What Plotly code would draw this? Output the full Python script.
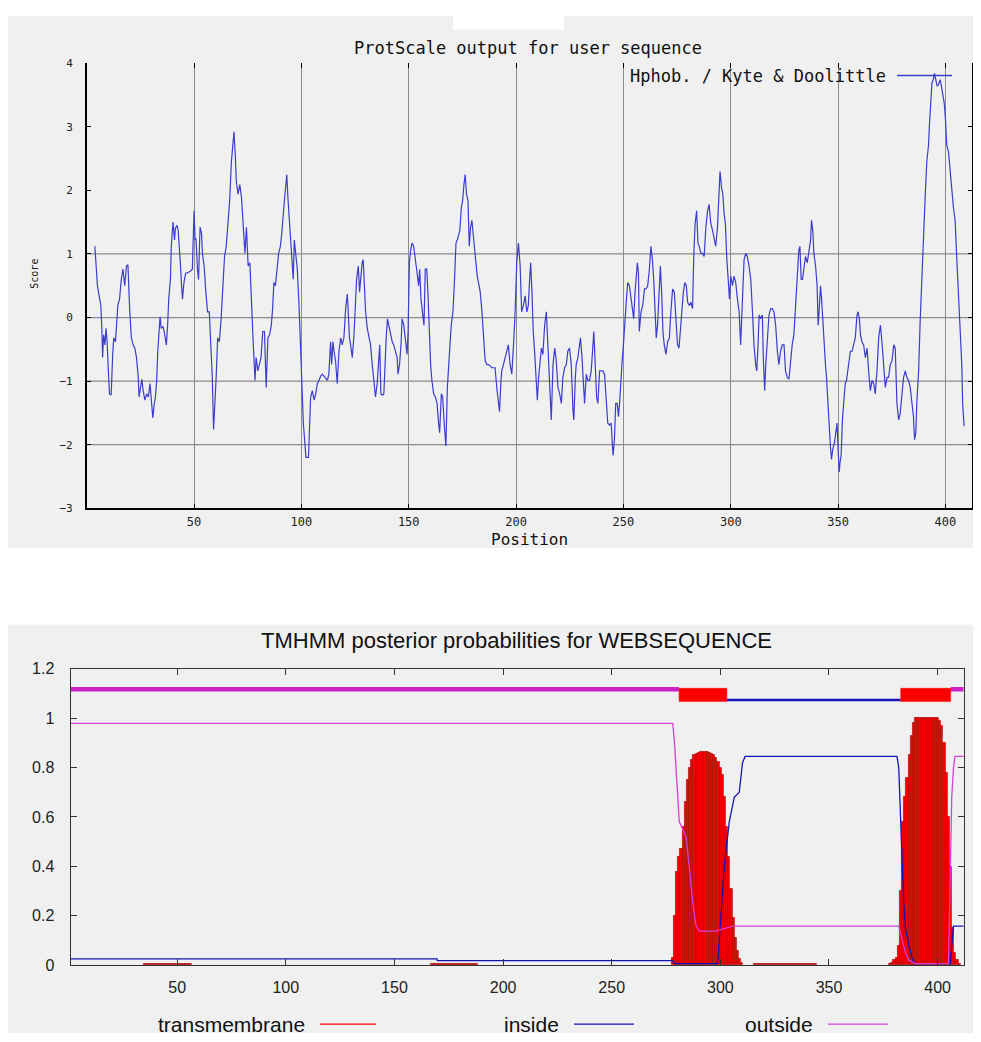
import plotly.graph_objects as go

# The page body adds an 8px margin, so the figure is 8px smaller and all
# reference pixel positions are shifted by that margin.
OFF = 8
W, H = 981 - OFF, 1042 - OFF


def fx(p):
    return (p - OFF) / W


def fy(p):
    return 1 - (p - OFF) / H


# ---------------- ProtScale (Kyte & Doolittle) profile ----------------
kd_pos = [
    3.8, 4.3, 5.0, 5.8, 6.6, 7.1, 7.4, 7.9, 8.5, 9.0,
    9.5, 10.1, 10.6, 11.4, 11.8, 12.1, 12.6, 13.4, 14.0, 14.5,
    15.3, 16.1, 16.9, 17.7, 18.5, 19.2, 20.0, 20.8, 21.6, 22.4,
    23.2, 24.0, 24.4, 25.1, 25.7, 26.3, 27.1, 27.9, 28.7, 29.5,
    30.0, 30.8, 31.4, 32.0, 32.6, 33.1, 33.9, 34.2, 34.7, 35.5,
    36.1, 37.1, 37.7, 38.2, 39.0, 39.4, 40.2, 40.9, 41.3, 42.1,
    42.6, 43.1, 43.7, 44.2, 44.6, 45.3, 46.1, 46.8, 48.4, 49.2,
    50.0, 50.5, 50.9, 51.6, 52.1, 52.8, 53.5, 53.9, 54.7, 55.5,
    56.3, 57.1, 57.9, 58.5, 59.1, 59.8, 60.3, 61.0, 61.8, 62.6,
    63.4, 64.2, 65.0, 65.8, 66.6, 67.4, 68.1, 68.6, 69.2, 69.7,
    70.5, 71.3, 72.1, 72.9, 73.7, 74.4, 75.2, 76.0, 76.8, 77.6,
    78.4, 78.9, 79.7, 80.4, 81.2, 82.0, 82.8, 83.6, 84.4, 85.2,
    86.0, 86.6, 87.2, 87.9, 88.6, 89.4, 90.2, 91.0, 91.8, 92.6,
    93.2, 93.8, 94.5, 95.1, 95.7, 96.2, 96.7, 97.3, 98.1, 98.9,
    99.7, 100.5, 100.9, 101.6, 102.1, 103.3,
    103.6, 104.3, 105.1, 105.9, 106.7, 107.4, 108.2, 109.0, 109.8, 110.5,
    111.3, 112.1, 112.8, 113.6, 114.1, 114.7, 115.2, 115.9, 116.7, 117.5,
    118.3, 119.0, 119.8, 120.6, 121.4, 121.8, 122.4, 122.9, 123.7, 124.5,
    125.2, 125.7, 126.5, 127.1, 127.6, 128.3, 128.8, 129.4, 129.9, 130.7,
    131.4, 132.2, 133.0, 133.7, 134.5, 135.3, 136.1, 136.5, 137.0, 137.9,
    138.4, 138.9, 139.5, 140.1, 140.7, 141.5, 142.3, 143.0, 143.8, 144.6,
    145.0, 145.7, 146.4, 146.9, 147.7, 148.5, 149.2, 149.7, 150.3, 150.9,
    151.5, 152.3, 153.1, 153.9, 154.6, 155.1, 155.7, 156.5, 157.1, 157.7,
    158.4, 159.0, 159.6, 160.2, 160.8, 161.6, 162.4, 163.2, 163.9, 164.4,
    165.2, 165.8, 166.6, 167.3, 168.0, 168.6, 169.2, 169.8, 170.6, 171.4,
    172.0, 172.6, 173.2, 173.8, 174.5, 175.1, 175.7, 176.3, 176.9, 177.6,
    178.2, 178.8, 179.4, 180.0, 180.7, 181.3, 181.9, 182.5, 183.3, 184.1,
    184.8, 185.6, 186.4, 187.2, 187.9, 188.7, 189.5, 190.2, 191.0, 191.8,
    192.3, 192.9, 193.3, 194.1, 194.9, 195.7, 196.4, 197.2, 198.0, 198.8,
    199.5, 200.3, 201.1, 201.9, 202.6, 203.4, 204.2, 205.0, 205.7,
    206.3, 206.8, 207.4, 208.0, 208.7, 209.4, 209.9, 210.5, 211.3, 211.8,
    212.5, 213.3, 214.1, 214.6, 215.2, 215.6, 216.4, 217.2, 218.0, 218.7,
    219.5, 220.3, 221.1, 221.8, 222.6, 223.4, 224.1, 224.9, 225.7, 226.5,
    226.9, 227.6, 228.0, 228.8, 229.6, 230.0, 230.7, 231.3, 231.9, 232.7,
    233.4, 234.2, 235.0, 235.8, 236.2, 236.8, 237.5, 238.1, 238.9, 239.6,
    240.4, 241.2, 242.0, 242.7, 243.5, 244.3, 244.7, 245.2, 245.8, 246.4,
    247.1, 247.7, 248.3, 248.9, 249.4, 250.0, 250.8, 251.4, 252.0, 252.8,
    253.6, 254.3, 254.8, 255.4, 255.9, 256.5, 257.0, 257.4, 258.2, 259.0,
    259.8, 260.5, 261.3, 262.1, 262.8, 263.5, 264.1, 264.7, 265.3, 265.9,
    266.6, 267.2, 267.8, 268.4, 269.0, 269.8, 270.6, 271.4, 272.1, 272.9,
    273.7, 274.5, 275.2, 275.9, 276.5, 277.1, 277.9, 278.6, 279.3, 279.9,
    280.7, 281.4, 282.2, 282.8, 283.4, 284.1, 284.7, 285.3, 286.1, 286.8,
    287.6, 288.4, 289.2, 289.9, 290.7, 291.5, 292.3, 293.0, 293.8, 294.4,
    295.0, 295.7, 296.3, 296.9, 297.5, 298.1, 298.8, 299.4, 300.0, 300.8,
    301.5, 302.3, 303.1, 303.9,
    304.6, 305.4, 306.2, 307.0, 307.7, 308.5, 309.3, 310.1, 310.8, 311.6,
    312.1, 312.7, 313.2, 313.9, 314.7, 315.2, 315.8, 316.3, 317.0, 317.8,
    318.6, 319.3, 320.1, 320.9, 321.7, 322.4, 323.2, 324.0, 324.8, 325.5,
    326.3, 327.1, 327.9, 328.6, 329.4, 330.2, 331.0, 331.7, 332.2, 332.8,
    333.4, 334.1, 334.8, 335.6, 336.4, 337.2, 337.6, 338.2, 338.7, 339.5,
    340.2, 340.7, 341.3, 341.8, 342.3, 342.9, 343.3, 344.1, 344.6, 345.2,
    345.8, 346.4, 346.9, 347.5, 348.3, 349.1, 349.5, 350.0, 350.5, 350.9,
    351.4, 352.0, 352.6, 353.3, 353.9, 354.5, 355.1, 355.7, 356.5, 357.3,
    358.0, 358.8, 359.3, 359.9, 360.4, 361.1, 361.9, 362.7, 363.5, 364.2,
    365.0, 365.8, 366.6, 367.3, 368.1, 368.9, 369.7, 370.4, 371.2, 372.0,
    372.8, 373.5, 374.3, 375.1, 375.9, 376.6, 377.4, 378.2, 378.9, 379.7,
    380.5, 381.3, 382.0, 382.8, 383.6, 384.4, 385.1, 385.6, 386.2, 386.7,
    387.5, 388.2, 389.0, 389.8, 390.6, 391.3, 392.1, 392.6, 393.2, 393.7,
    394.3, 394.9, 395.5, 396.1, 396.7, 397.5, 398.1, 398.8, 399.4, 400.0,
    400.6, 401.4, 402.2, 402.9, 403.7, 404.5, 405.3, 406.0, 406.8, 407.6,
    408.0, 408.7,
]
kd_val = [
    1.12, 0.81, 0.50, 0.34, 0.19, -0.22, -0.63, -0.27, -0.43, -0.17,
    -0.38, -0.84, -1.20, -1.22, -0.79, -0.58, -0.32, -0.38, -0.07, 0.19,
    0.29, 0.60, 0.76, 0.50, 0.81, 0.83, 0.14, -0.32, -0.43, -0.48,
    -0.63, -0.94, -1.25, -1.10, -0.97, -1.15, -1.30, -1.20, -1.25, -1.04,
    -1.30, -1.58, -1.38, -1.25, -0.99, -0.53, -0.12, 0.01, -0.17, -0.14,
    -0.22, -0.43, -0.12, 0.29, 0.60, 1.12, 1.50, 1.22, 1.40, 1.45,
    1.37, 1.01, 0.81, 0.50, 0.29, 0.55, 0.70, 0.70, 0.73, 0.76,
    1.68, 1.22, 1.24, 0.76, 0.60, 1.42, 1.32, 1.01, 0.81, 0.40,
    0.09, 0.09, -0.43, -0.94, -1.76, -1.35, -0.94, -0.32, -0.38, -0.02,
    0.45, 0.96, 1.12, 1.48, 1.84, 2.45, 2.71, 2.92, 2.56, 2.14,
    1.94, 2.09, 1.89, 1.48, 1.01, 1.42, 0.81, 0.86, 0.09, -0.43,
    -0.99, -0.63, -0.84, -0.74, -0.63, -0.22, -0.22, -1.10, -0.32, -0.27,
    -0.12, 0.14, 0.55, 0.50, 0.70, 1.01, 1.12, 1.37, 1.73, 2.09,
    2.25, 1.84, 1.42, 1.22, 0.81, 0.60, 1.22, 1.01, 0.76, 0.19,
    -0.68, -1.35, -1.66, -1.97, -2.20, -2.20,
    -1.81, -1.25, -1.15, -1.30, -1.20, -1.04, -0.99, -0.92, -0.89, -0.92,
    -0.94, -0.99, -0.89, -0.38, -0.74, -0.38, -0.53, -0.68, -1.04, -0.53,
    -0.32, -0.43, -0.32, 0.14, 0.37, 0.04, -0.32, -0.43, -0.63, -0.27,
    0.19, 0.60, 0.81, 0.40, 0.60, 0.86, 0.91, 0.50, 0.09, -0.17,
    -0.32, -0.43, -0.74, -0.99, -1.25, -1.04, -0.63, -0.43, -1.20, -1.22,
    -1.20, -0.74, -0.32, -0.02, -0.12, -0.27, -0.38, -0.43, -0.53, -0.63,
    -0.89, -0.74, -0.43, -0.02, -0.12, -0.43, -0.58, -0.22, 0.86, 1.06,
    1.17, 1.12, 0.86, 0.70, 0.50, 0.76, 0.29, 0.04, -0.12, 0.76,
    0.76, 0.34, -0.32, -0.74, -0.99, -1.20, -1.25, -1.35, -1.66, -1.81,
    -1.20, -1.25, -1.71, -2.02, -1.10, -0.84, -0.43, -0.12, 0.09, 0.65,
    1.17, 1.22, 1.32, 1.37, 1.73, 1.84, 2.09, 2.25, 1.94, 1.84,
    1.12, 1.42, 1.53, 1.32, 1.12, 0.81, 0.65, 0.55, 0.40, 0.09,
    -0.32, -0.68, -0.74, -0.74, -0.76, -0.79, -0.79, -0.79, -1.10, -1.35,
    -1.48, -1.04, -0.84, -0.74, -0.63, -0.53, -0.43, -0.74, -0.89, -0.43,
    0.04, 0.86, 1.17, 0.81, 0.09, 0.19, 0.34, 0.09, 0.19,
    0.60, 0.86, 0.40, -0.22, -0.58, -0.99, -1.30, -0.94, -0.63, -0.48,
    -0.58, -0.12, 0.09, -0.32, -0.74, -1.10, -1.61, -0.74, -0.48, -0.68,
    -1.10, -1.20, -1.35, -0.94, -0.79, -0.74, -0.53, -0.48, -0.74, -1.46,
    -1.61, -0.94, -0.74, -0.63, -0.38, -0.32, -0.63, -1.04, -1.35, -0.89,
    -0.99, -0.99, -0.84, -0.43, -0.22, -0.68, -1.25, -1.35, -0.84, -0.84,
    -0.84, -0.89, -1.30, -1.66, -1.69, -1.66, -1.92, -2.17, -1.92, -1.35,
    -1.35, -1.56, -1.30, -0.89, -0.68, -0.43, 0.09, 0.29, 0.55, 0.50,
    0.29, 0.09, -0.02, 0.40, 0.65, 0.86, 0.70, -0.22, 0.09, 0.19,
    0.45, 0.45, 0.50, 0.76, 1.12, 0.91, 0.60, -0.02, -0.32, -0.12,
    0.40, 0.81, 0.40, -0.22, -0.43, -0.58, -0.38, -0.32, 0.09, 0.45,
    0.40, 0.04, -0.43, -0.48, -0.22, 0.09, 0.40, 0.55, 0.50, 0.24,
    0.19, 0.24, 0.14, 1.01, 1.48, 1.68, 1.17, 1.12, 1.01, 1.01,
    0.96, 1.42, 1.68, 1.78, 1.48, 1.37, 1.22, 1.12, 1.42, 1.89,
    2.30, 2.04, 1.94, 1.63, 1.48, 0.96, 0.55, 0.29, 0.65, 0.50,
    0.65, 0.55, 0.29, 0.09,
    -0.43, 0.40, 0.91, 1.01, 0.96, 0.81, 0.60, 0.09, -0.43, -0.74,
    -0.84, -0.43, 0.04, -0.02, 0.04, -0.68, -1.15, -0.74, -0.38, 0.04,
    0.14, 0.14, 0.09, -0.12, -0.53, -0.74, -0.53, -0.43, -0.43, -0.84,
    -0.94, -0.97, -0.68, -0.43, -0.27, 0.19, 0.60, 1.06, 1.12, 0.60,
    0.60, 0.76, 0.96, 0.86, 1.01, 1.22, 1.53, 1.37, 1.01, 0.81,
    0.50, -0.12, 0.19, 0.50, 0.29, -0.12, -0.43, -0.74, -0.94, -1.35,
    -1.56, -2.02, -2.23, -2.07, -1.97, -1.76, -1.66, -2.07, -2.43, -2.28,
    -2.17, -1.61, -1.25, -1.04, -0.99, -0.84, -0.74, -0.53, -0.53, -0.43,
    -0.32, 0.04, 0.09, -0.02, -0.27, -0.38, -0.43, -0.63, -0.48, -0.84,
    -1.15, -0.99, -1.04, -1.20, -0.84, -0.32, -0.12, -0.38, -0.74, -1.10,
    -0.94, -0.94, -0.74, -0.68, -0.43, -0.48, -1.35, -1.61, -1.51, -1.15,
    -0.94, -0.84, -0.94, -0.99, -1.10, -1.35, -1.56, -1.92, -1.81, -1.30,
    -0.84, -0.07, 0.70, 1.22, 1.94, 2.45, 2.71, 3.07, 3.48, 3.69,
    3.74, 3.84, 3.74, 3.64, 3.66, 3.74, 3.64, 3.48, 3.38, 3.12,
    2.71, 2.61, 2.35, 2.04, 1.73, 1.53, 0.91, 0.34, -0.22, -0.74,
    -1.35, -1.71,
]
n_kd = min(len(kd_pos), len(kd_val))
kd_pos, kd_val = kd_pos[:n_kd], kd_val[:n_kd]

top_xticks = [50, 100, 150, 200, 250, 300, 350, 400]
top_yticks = [-3, -2, -1, 0, 1, 2, 3, 4]
top_hgrid = [-2, -1, 0, 1]

# ---------------- TMHMM posterior probabilities ----------------
tm_pos = (
    [35, 36, 37, 38, 39, 40, 41, 42, 43, 44, 45, 46, 47, 48, 49, 50, 51, 52, 53, 54, 55, 56]
    + [167, 168, 169, 170, 171, 172, 173, 174, 175, 176, 177, 178, 179, 180, 181, 182, 183, 184, 185, 186, 187, 188]
    + [278, 279, 280, 281, 282, 283, 284, 285, 286, 287, 288, 289, 290, 291, 292, 293, 294,
       295, 296, 297, 298, 299, 300, 301, 302, 303, 304, 305, 306, 307, 308, 309, 310]
    + [316, 317, 318, 319, 320, 321, 322, 323, 324, 325, 326, 327, 328, 329, 330, 331, 332,
       333, 334, 335, 336, 337, 338, 339, 340, 341, 342, 343, 344]
    + [378, 379, 380, 381, 382, 383, 384, 385, 386, 387, 388, 389, 390, 391, 392, 393, 394,
       395, 396, 397, 398, 399, 400, 401, 402, 403, 404, 405, 406, 407, 408, 409, 410]
)
tm_val = (
    [0.004, 0.004, 0.004, 0.004, 0.004, 0.004, 0.004, 0.004, 0.004, 0.004, 0.005,
     0.005, 0.005, 0.005, 0.006, 0.006, 0.005, 0.005, 0.004, 0.004, 0.004, 0.004]
    + [0.004, 0.004, 0.004, 0.004, 0.004, 0.004, 0.004, 0.004, 0.004, 0.004, 0.004,
       0.004, 0.004, 0.004, 0.004, 0.004, 0.004, 0.004, 0.004, 0.004, 0.004, 0.004]
    + [0.03, 0.20, 0.38, 0.44, 0.47, 0.56, 0.66, 0.75, 0.80, 0.83, 0.85, 0.855, 0.86, 0.862, 0.862, 0.862, 0.862,
       0.86, 0.855, 0.85, 0.84, 0.825, 0.80, 0.77, 0.68, 0.56, 0.44, 0.31, 0.19, 0.11, 0.06, 0.025, 0.01]
    + [0.004, 0.004, 0.004, 0.004, 0.004, 0.004, 0.004, 0.004, 0.004, 0.004, 0.004, 0.004, 0.004, 0.004,
       0.004, 0.004, 0.004, 0.004, 0.004, 0.004, 0.004, 0.004, 0.004, 0.004, 0.004, 0.004, 0.004, 0.004, 0.004]
    + [0.005, 0.01, 0.02, 0.03, 0.08, 0.30, 0.58, 0.68, 0.76, 0.85, 0.93, 0.98, 1.0, 1.0, 1.0, 1.0, 1.0,
       1.0, 1.0, 1.0, 1.0, 1.0, 1.0, 0.99, 0.97, 0.90, 0.78, 0.60, 0.40, 0.15, 0.05, 0.02, 0.005]
)

inside_pos = [1, 169.6, 169.7, 278.1, 279.0, 298.7, 299.1, 301.8, 304.1, 306.4, 308.7, 310.2, 311.4,
              381.3, 382.1, 382.9, 383.6, 384.4, 385.2, 386.7, 388.2, 389.7, 405.8, 406.5, 407.3, 412]
inside_val = [0.025, 0.025, 0.018, 0.018, 0.006, 0.006, 0.05, 0.40, 0.58, 0.68, 0.70, 0.82, 0.845,
              0.845, 0.80, 0.60, 0.40, 0.25, 0.15, 0.08, 0.03, 0.006, 0.006, 0.08, 0.158, 0.158]

outside_pos = [1, 278.1, 278.9, 279.6, 280.4, 281.1, 282.7, 284.2, 285.7, 287.2, 288.8, 290.3, 298.0,
               302.6, 305.6, 382.1, 383.6, 385.2, 386.7, 389.7, 405.0, 405.8, 406.5, 407.3, 408.0, 412]
outside_val = [0.979, 0.979, 0.90, 0.80, 0.68, 0.58, 0.55, 0.52, 0.40, 0.26, 0.16, 0.138, 0.138,
               0.15, 0.158, 0.158, 0.10, 0.05, 0.02, 0.006, 0.006, 0.30, 0.68, 0.80, 0.845, 0.845]

# topology bar above the curves (predicted regions)
out_seg_start = [1, 406]
out_seg_end = [281, 412]
tm_seg_start = [281, 383]
tm_seg_end = [303, 406]
in_seg_start = [303]
in_seg_end = [383]

bot_xticks = [50, 100, 150, 200, 250, 300, 350, 400]
bot_yticks = [0, 0.2, 0.4, 0.6, 0.8, 1.0, 1.2]

# ---------------- styles ----------------
MONO = "DejaVu Sans Mono"
SANS = "Liberation Sans, Arial"
KD_BLUE = "#3c3cd0"
RED = "#ff0000"
IN_BLUE = "#1414b4"
OUT_PINK = "#d640d6"
OUT_PINK_BAR = "#cc22cc"
BAR_Y_OUT = 1.117
BAR_Y_IN = 1.074
TM_BOX_LO, TM_BOX_HI = 1.068, 1.121

fig = go.Figure()

# top subplot: profile
fig.add_trace(go.Scatter(x=kd_pos, y=kd_val, mode="lines", xaxis="x", yaxis="y",
                         line=dict(color=KD_BLUE, width=1.2), hoverinfo="skip", showlegend=False))
# helper trace so the top tick axis is drawn
fig.add_trace(go.Scatter(x=[kd_pos[0]], y=[kd_val[0]], mode="markers", xaxis="x3", yaxis="y",
                         marker=dict(opacity=0), hoverinfo="skip", showlegend=False))

# bottom subplot: TMHMM
fig.add_trace(go.Bar(x=tm_pos, y=tm_val, width=1, xaxis="x2", yaxis="y2",
                     marker=dict(color=RED, line=dict(color="#9a0000", width=0.6)),
                     hoverinfo="skip", showlegend=False))
fig.add_trace(go.Scatter(x=inside_pos, y=inside_val, mode="lines", xaxis="x2", yaxis="y2",
                         line=dict(color=IN_BLUE, width=1.3), hoverinfo="skip", showlegend=False))
fig.add_trace(go.Scatter(x=outside_pos, y=outside_val, mode="lines", xaxis="x2", yaxis="y2",
                         line=dict(color=OUT_PINK, width=1.3), hoverinfo="skip", showlegend=False))


def seg_xy(starts, ends, yv):
    xs, ys = [], []
    for s, e in zip(starts, ends):
        xs += [s, e, None]
        ys += [yv, yv, None]
    return xs, ys


def box_xy(starts, ends, lo, hi):
    xs, ys = [], []
    for s, e in zip(starts, ends):
        xs += [s, e, e, s, s, None]
        ys += [lo, lo, hi, hi, lo, None]
    return xs, ys


ox, oy = seg_xy(out_seg_start, out_seg_end, BAR_Y_OUT)
fig.add_trace(go.Scatter(x=ox, y=oy, mode="lines", xaxis="x2", yaxis="y2",
                         line=dict(color=OUT_PINK_BAR, width=4.5), hoverinfo="skip", showlegend=False))
ix, iy = seg_xy(in_seg_start, in_seg_end, BAR_Y_IN)
fig.add_trace(go.Scatter(x=ix, y=iy, mode="lines", xaxis="x2", yaxis="y2",
                         line=dict(color=IN_BLUE, width=2.5), hoverinfo="skip", showlegend=False))
bx, by = box_xy(tm_seg_start, tm_seg_end, TM_BOX_LO, TM_BOX_HI)
fig.add_trace(go.Scatter(x=bx, y=by, mode="lines", fill="toself", fillcolor=RED, xaxis="x2", yaxis="y2",
                         line=dict(color=RED, width=0.5), hoverinfo="skip", showlegend=False))

shapes = [
    # backgrounds
    dict(type="rect", xref="paper", yref="paper", x0=fx(8), x1=fx(981), y0=fy(549), y1=fy(8),
         fillcolor="#f0f0f0", line=dict(width=0), layer="below"),
    dict(type="rect", xref="paper", yref="paper", x0=fx(453), x1=fx(564), y0=fy(22), y1=fy(8),
         fillcolor="#ffffff", line=dict(width=0), layer="below"),
    dict(type="rect", xref="paper", yref="paper", x0=0, x1=1, y0=0, y1=fy(627),
         fillcolor="#f0f0f0", line=dict(width=0), layer="below"),
    # legend samples
    dict(type="line", xref="paper", yref="paper", x0=fx(897), x1=fx(952), y0=fy(68.5), y1=fy(68.5),
         line=dict(color=KD_BLUE, width=1.3)),
    dict(type="line", xref="paper", yref="paper", x0=fx(320), x1=fx(376), y0=fy(1033), y1=fy(1033),
         line=dict(color=RED, width=1.4)),
    dict(type="line", xref="paper", yref="paper", x0=fx(574), x1=fx(634), y0=fy(1033), y1=fy(1033),
         line=dict(color=IN_BLUE, width=1.4)),
    dict(type="line", xref="paper", yref="paper", x0=fx(828), x1=fx(888), y0=fy(1033), y1=fy(1033),
         line=dict(color=OUT_PINK, width=1.4)),
]
for gv in top_hgrid:
    shapes.append(dict(type="line", xref="x domain", yref="y", x0=0, x1=1, y0=gv, y1=gv,
                       line=dict(color="#8c8c8c", width=1.2), layer="below"))

annotations = [
    dict(text="ProtScale output for user sequence", x=fx(528), y=fy(41), xref="paper", yref="paper",
         showarrow=False, font=dict(family=MONO, size=17, color="#111"), xanchor="center", yanchor="middle"),
    dict(text="Hphob. / Kyte & Doolittle", x=fx(888), y=fy(69), xref="paper", yref="paper",
         showarrow=False, font=dict(family=MONO, size=17, color="#111"), xanchor="right", yanchor="middle"),
    dict(text="Score", x=fx(35), y=fy(270), xref="paper", yref="paper", textangle=-90,
         showarrow=False, font=dict(family=MONO, size=10, color="#222"), xanchor="center", yanchor="middle"),
    dict(text="Position", x=fx(529), y=fy(540), xref="paper", yref="paper",
         showarrow=False, font=dict(family=MONO, size=16, color="#111"), xanchor="center", yanchor="middle"),
    dict(text="TMHMM posterior probabilities for WEBSEQUENCE", x=fx(517), y=fy(643), xref="paper", yref="paper",
         showarrow=False, font=dict(family=SANS, size=22, color="#111"), xanchor="center", yanchor="middle"),
    dict(text="transmembrane", x=fx(307), y=fy(1033), xref="paper", yref="paper",
         showarrow=False, font=dict(family=SANS, size=21, color="#111"), xanchor="right", yanchor="middle"),
    dict(text="inside", x=fx(561), y=fy(1033), xref="paper", yref="paper",
         showarrow=False, font=dict(family=SANS, size=21, color="#111"), xanchor="right", yanchor="middle"),
    dict(text="outside", x=fx(815), y=fy(1033), xref="paper", yref="paper",
         showarrow=False, font=dict(family=SANS, size=21, color="#111"), xanchor="right", yanchor="middle"),
]

fig.update_layout(
    width=W, height=H,
    margin=dict(l=0, r=0, t=0, b=0),
    paper_bgcolor="#ffffff",
    plot_bgcolor="rgba(0,0,0,0)",
    showlegend=False,
    bargap=0,
    shapes=shapes,
    annotations=annotations,
    xaxis=dict(domain=[fx(86.7), fx(972.3)], range=[0, 412.5], anchor="y",
               tickmode="array", tickvals=top_xticks, ticks="inside", ticklen=5, tickwidth=1.2,
               tickcolor="#000", showline=True, linecolor="#000", linewidth=1.5, mirror=False,
               showgrid=True, gridcolor="#8c8c8c", gridwidth=1.2, zeroline=False,
               tickfont=dict(family=MONO, size=12, color="#222"), ticklabelstandoff=2),
    xaxis3=dict(overlaying="x", anchor="y", side="top", range=[0, 412.5],
                tickmode="array", tickvals=top_xticks, ticks="inside", ticklen=5, tickwidth=1.2,
                tickcolor="#000", showticklabels=False, showline=False, showgrid=False, zeroline=False),
    yaxis=dict(domain=[fy(508.5), fy(56)], range=[-3, 4], anchor="x",
               tickmode="array", tickvals=top_yticks, ticks="inside", ticklen=5, tickwidth=1.2,
               tickcolor="#000", showline=True, linecolor="#000", linewidth=1.5, mirror="ticks",
               showgrid=False, zeroline=False,
               tickfont=dict(family=MONO, size=11, color="#222"), ticklabelstandoff=10),
    xaxis2=dict(domain=[fx(70.7), fx(963.7)], range=[1, 412], anchor="y2",
                tickmode="array", tickvals=bot_xticks, ticks="inside", ticklen=6, tickwidth=1.2,
                tickcolor="#333", showline=True, linecolor="#333", linewidth=1.4, mirror="ticks",
                showgrid=False, zeroline=False,
                tickfont=dict(family=SANS, size=16, color="#222"), ticklabelstandoff=7),
    yaxis2=dict(domain=[fy(973), fy(671.7)], range=[0, 1.2], anchor="x2",
                tickmode="array", tickvals=bot_yticks, ticks="inside", ticklen=6, tickwidth=1.2,
                tickcolor="#333", showline=True, linecolor="#333", linewidth=1.4, mirror="ticks",
                showgrid=False, zeroline=False,
                tickfont=dict(family=SANS, size=16, color="#222"), ticklabelstandoff=12),
)

fig.write_html("out.html")
